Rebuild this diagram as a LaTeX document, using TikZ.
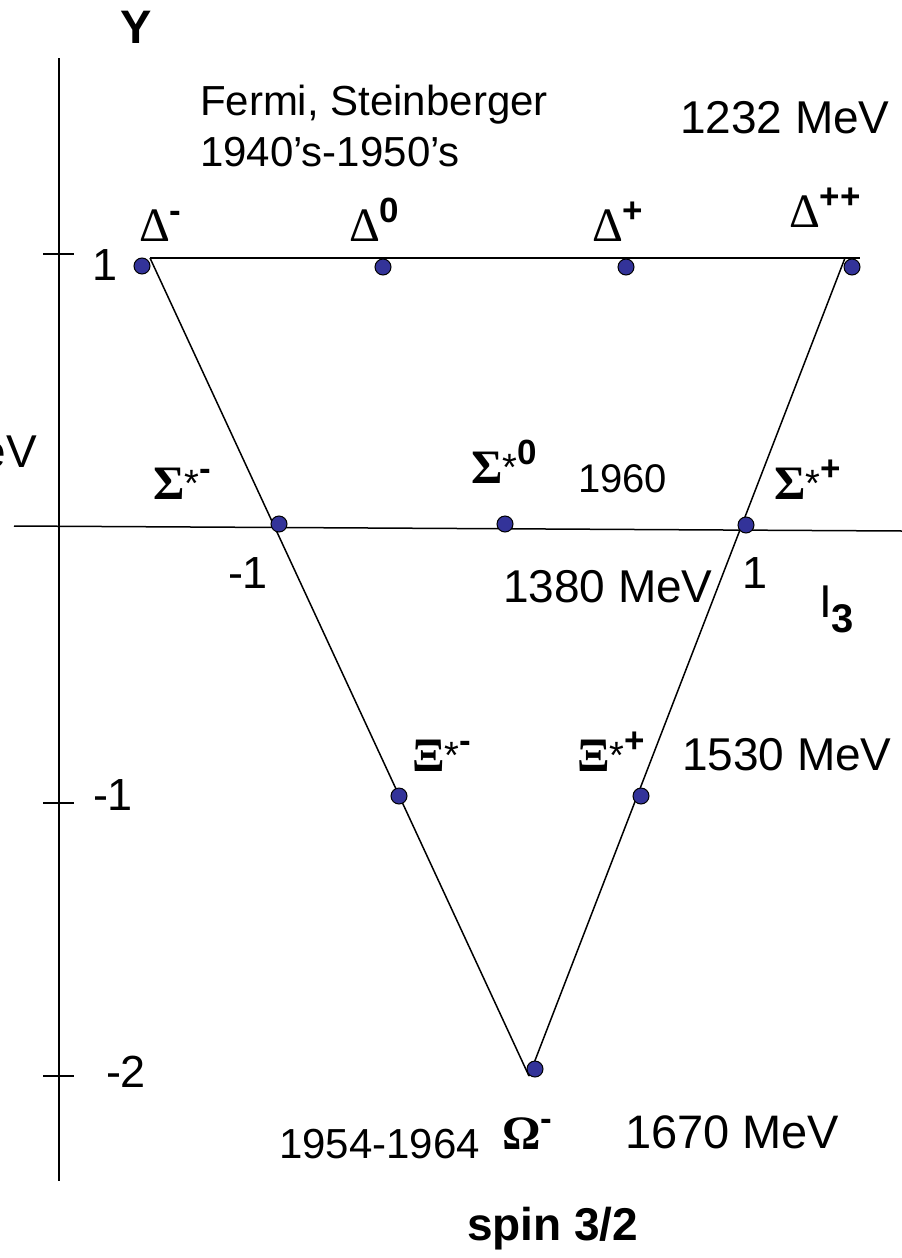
\documentclass[tikz,border=0pt]{standalone}
\usepackage{fontspec}
\setmainfont{Liberation Sans}
\newfontfamily\grk{Liberation Serif}
\newcommand{\fsz}[1]{\fontsize{#1}{#1}\selectfont}
\newcommand{\plab}[3]{{\grk\fsz{48}#1}\raisebox{3pt}{\fsz{38}#2}\raisebox{19pt}{\bfseries\fsz{35}#3}}
\definecolor{dotblue}{RGB}{51,51,153}
\tikzset{
  dot/.style={circle, draw=black, line width=1pt, fill=dotblue, minimum size=16pt, inner sep=0pt},
  txt/.style={anchor=base west, inner sep=0pt, outer sep=0pt},
  ln/.style={line width=1.5pt, black},
}
\begin{document}
\begin{tikzpicture}[x=1pt,y=-1pt]
\useasboundingbox (0,0) rectangle (902,1258);
\fill[white] (0,0) rectangle (902,1258);
% axes
\coordinate (ya) at (59,58);
\coordinate (yb) at (59,1181);
\coordinate (xa) at (14,526);
\coordinate (xb) at (902,531);
\draw[ln] (ya) -- (yb);
\draw[ln] (xa) -- (xb);
% ticks
\coordinate (t1a) at (43,254); \coordinate (t1b) at (74,254);
\coordinate (t2a) at (43,803); \coordinate (t2b) at (74,803);
\coordinate (t3a) at (43,1076); \coordinate (t3b) at (74,1076);
\draw[ln] (t1a) -- (t1b);
\draw[ln] (t2a) -- (t2b);
\draw[ln] (t3a) -- (t3b);
% triangle
\coordinate (TL) at (150,258);
\coordinate (TR) at (860,258);
\coordinate (TRs) at (845,258);
\coordinate (AP) at (529,1076);
\draw[ln] (TL) -- (TR);
\draw[ln] (TL) -- (AP);
\draw[ln] (TRs) -- (AP);
% dots
\node[dot] (dm) at (142,266) {};
\node[dot] (d0) at (383,267) {};
\node[dot] (dp) at (626,267) {};
\node[dot] (dpp) at (852,267) {};
\node[dot] (sm) at (279,524) {};
\node[dot] (s0) at (505,524) {};
\node[dot] (sp) at (746,525) {};
\node[dot] (xm) at (399,796) {};
\node[dot] (xp) at (641,796) {};
\node[dot] (om) at (535,1069) {};
% axis labels
\node[txt] (Ylab) at (120,43) {\bfseries\fsz{47}Y};
\node[txt] (I3lab) at (819,617) {\fsz{46}I};
\node[txt] (I3sub) at (831,632) {\bfseries\fsz{40}3};
\node[txt] (y1) at (92,280) {\fsz{45}1};
\node[txt] (ym1) at (93,810) {\fsz{45}-1};
\node[txt] (ym2) at (106,1087) {\fsz{45}-2};
\node[txt] (im1) at (228,588) {\fsz{45}-1};
\node[txt] (ip1) at (742,588) {\fsz{45}1};
\node[anchor=base east, inner sep=0pt] (cut) at (37,467) {\fsz{46}MeV};
% texts
\node[txt] (fermi) at (200,115) {\fsz{42}Fermi, Steinberger};
\node[txt] (years) at (200,166) {\fsz{42}1940’s-1950’s};
\node[txt] (m1232) at (680,133) {\fsz{46}1232 MeV};
\node[txt] (y1960) at (578,492) {\fsz{40}1960};
\node[txt] (m1380) at (503,602) {\fsz{46}1380 MeV};
\node[txt] (m1530) at (682,770) {\fsz{46}1530 MeV};
\node[txt] (m1670) at (625,1148) {\fsz{47}1670 MeV};
\node[txt] (y1954) at (279,1158) {\fsz{42}1954-1964};
\node[txt] (spin) at (467,1240) {\bfseries\fsz{46}spin 3/2};
% particle labels
\node[txt] (Ldm) at (139,241) {\plab{Δ}{}{-}};
\node[txt] (Ld0) at (349,241) {\plab{Δ}{}{0}};
\node[txt] (Ldp) at (592,241) {\plab{Δ}{}{+}};
\node[txt] (Ldpp) at (789,227) {\plab{Δ}{}{++}};
\node[txt] (Lsm) at (153,499) {\plab{\bfseries Σ}{*}{-}};
\node[txt] (Ls0) at (471,483) {\plab{\bfseries Σ}{*}{0}};
\node[txt] (Lsp) at (774,499) {\plab{\bfseries Σ}{*}{+}};
\node[txt] (Lxm) at (412,771) {\plab{\bfseries Ξ}{*}{-}};
\node[txt] (Lxp) at (577,771) {\plab{\bfseries Ξ}{*}{+}};
\node[txt] (Lom) at (502,1149) {\plab{\bfseries Ω}{}{-}};
\end{tikzpicture}
\end{document}
